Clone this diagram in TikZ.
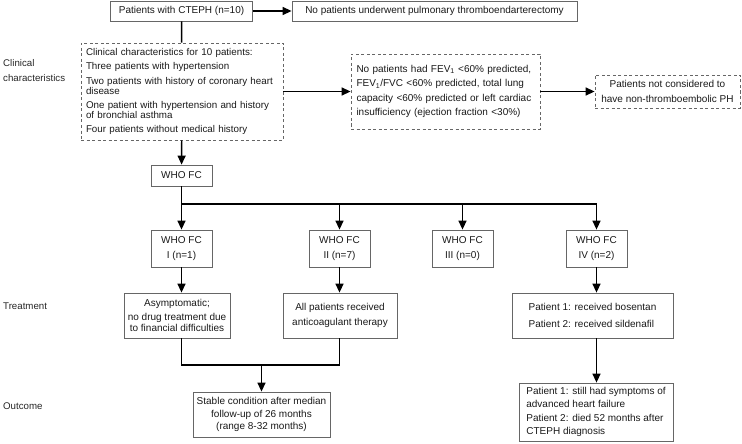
\documentclass[tikz,border=0pt]{standalone}
\usepackage{fontspec}
\setmainfont{Liberation Sans}
\usetikzlibrary{positioning,arrows.meta}
\tikzset{line/.style={draw, line width=1.4pt, -{Triangle[length=9pt,width=8pt]}}}
\tikzset{link/.style={draw, line width=1.4pt}}

\begin{document}
\begin{tikzpicture}[x=1pt, y=-1pt, main/.style = {draw=black!60, line width=0.8pt, inner sep=0pt, align=center, text=black!90, font=\fontsize{10}{13}\selectfont}, dbox/.style = {main, dashed, dash pattern=on 3pt off 2.5pt}, side/.style = {anchor=west, align=left, inner sep=0pt, text=black!85, font=\fontsize{9.7}{15.5}\selectfont}]
\useasboundingbox (0,0) rectangle (742,444);
% top row
\node[main, minimum width=142pt, minimum height=20pt] (1) at (181.5,11) {Patients with CTEPH (n=10)};
\node[main, minimum width=285pt, minimum height=20pt] (2) at (434.5,11) {No patients underwent pulmonary thromboendarterectomy};
% clinical characteristics
\node[side] (16) at (3,70.5) {Clinical\\characteristics};
\node[dbox, minimum width=202pt, minimum height=97pt, text width=192pt, align=left, font=\fontsize{9.8}{9.8}\selectfont] (3) at (182,91.5) {Clinical characteristics for 10 patients:\\[4.5pt]
Three patients with hypertension\\[4.5pt]
Two patients with history of coronary heart\\disease\\[4.5pt]
One patient with hypertension and history\\of bronchial asthma\\[4.5pt]
Four patients without medical history};
\node[dbox, minimum width=189pt, minimum height=75pt, text width=178pt, align=left, font=\fontsize{10}{14.5}\selectfont] (4) at (445.5,91.5) {No patients had FEV\textsubscript{1} <60\% predicted,\\
FEV\textsubscript{1}/FVC <60\% predicted, total lung\\
capacity <60\% predicted or left cardiac\\
insufficiency (ejection fraction <30\%)};
\node[dbox, minimum width=145pt, minimum height=33pt, font=\fontsize{10}{15}\selectfont] (5) at (667.5,91.5) {Patients not considered to\\have non-thromboembolic PH};
% functional class
\node[main, minimum width=61pt, minimum height=21pt] (6) at (181.5,175.5) {WHO FC};
\coordinate (bus) at (181.5,204);
\node[main, minimum width=61pt, minimum height=37pt, font=\fontsize{10}{15}\selectfont] (7) at (181.5,248.5) {WHO FC\\I (n=1)};
\node[main, minimum width=61pt, minimum height=37pt, font=\fontsize{10}{15}\selectfont] (8) at (339.5,248.5) {WHO FC\\II (n=7)};
\node[main, minimum width=61pt, minimum height=37pt, font=\fontsize{10}{15}\selectfont] (9) at (462.5,248.5) {WHO FC\\III (n=0)};
\node[main, minimum width=61pt, minimum height=37pt, font=\fontsize{10}{15}\selectfont] (10) at (596.5,248.5) {WHO FC\\IV (n=2)};
% treatment
\node[side] (17) at (3,306) {Treatment};
\node[main, minimum width=106pt, minimum height=45pt, font=\fontsize{10}{11}\selectfont] (11) at (177,315.5) {Asymptomatic;\\[3pt]no drug treatment due\\to financial difficulties};
\node[main, minimum width=114pt, minimum height=45pt, font=\fontsize{10}{15}\selectfont] (12) at (340,315.5) {All patients received\\anticoagulant therapy};
\node[main, minimum width=161pt, minimum height=45pt, align=left, font=\fontsize{10}{17}\selectfont] (13) at (592.5,315.5) {Patient 1: received bosentan\\Patient 2: received sildenafil};
% outcome
\node[side] (18) at (3,406) {Outcome};
\node[main, minimum width=137pt, minimum height=45pt, font=\fontsize{10}{11.5}\selectfont] (14) at (261.5,414.5) {Stable condition after median\\[1.5pt]follow-up of 26 months\\(range 8-32 months)};
\node[main, minimum width=154pt, minimum height=58pt, align=left, font=\fontsize{10}{13}\selectfont] (15) at (596,412) {Patient 1: still had symptoms of\\advanced heart failure\\[1pt]Patient 2: died 52 months after\\CTEPH diagnosis};
\coordinate (m) at (261.5,365);
% connectors
\draw[line] (1) -- (2);
\draw[link] (1) -- (3);
\draw[line] (3) -- (4);
\draw[line] (4) -- (5);
\draw[line] (3) -- (6);
\draw[line] (6) -- (7);
\draw[line] (bus) -| (10);
\foreach \n in {8,9}
  \draw[line] (bus -| \n) -- (\n);
\draw[line] (7) -- (7 |- 11.north);
\draw[line] (8) -- (8 |- 12.north);
\draw[line] (10) -- (10 |- 13.north);
\draw[link] (7 |- 11.south) -- (7 |- m) -- (8 |- m) -- (8 |- 12.south);
\draw[line] (m) -- (14);
\draw[line] (10 |- 13.south) -- (10 |- 15.north);
\end{tikzpicture}
\end{document}
